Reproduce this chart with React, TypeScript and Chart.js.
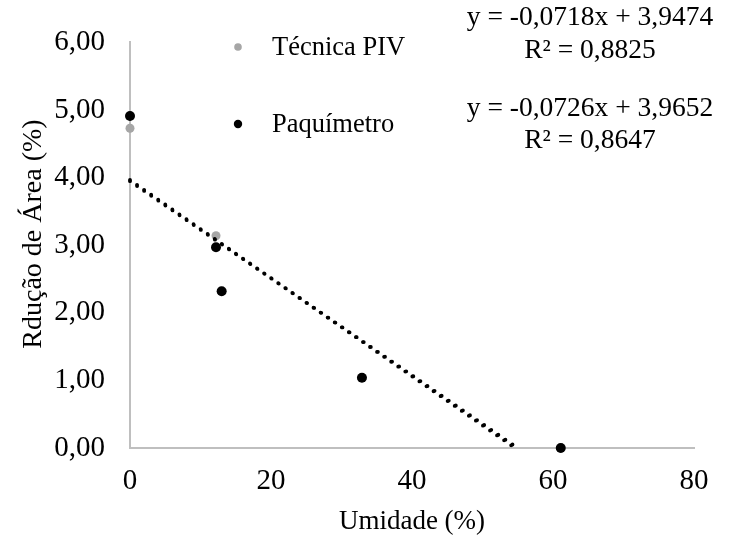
import React, { useEffect, useRef } from 'react';
import { Chart, registerables } from 'chart.js';

Chart.register(...registerables);

// Umidade (%) x Redução de área (%)
const umidadePIV = [0, 12.2, 13, 32.9, 61.1];
const reducaoPIV = [4.73, 3.14, 2.32, 1.04, 0];
const umidadePaquimetro = [0, 12.2, 13, 32.9, 61.1];
const reducaoPaquimetro = [4.91, 2.97, 2.32, 1.04, 0];

const seriesNames = ['Técnica PIV', 'Paquímetro'];
const seriesColors = ['#A6A6A6', '#000000'];

// Linear trendlines: y = a·x + b
const trendSlopes = [-0.0718, -0.0726];
const trendIntercepts = [3.9474, 3.9652];
const trendR2 = [0.8825, 0.8647];

const xMin = 0;
const xMax = 80;
const xStep = 20;
const yMin = 0;
const yMax = 6;
const yStep = 1;

const xTitle = 'Umidade (%)';
const yTitle = 'Rdução de Área (%)';

const FONT_FAMILY = '"Liberation Serif", "Times New Roman", serif';
const TICK_SIZE = 29;
const LEGEND_SIZE = 26.5;
const EQ_SIZE = 27.5;
const AXIS_COLOR = '#BFBFBF';

const fmt = (v: number, d: number) => v.toFixed(d).replace('.', ',');

const toPoints = (xs: number[], ys: number[]) => xs.map((x, i) => ({ x, y: ys[i] }));

// Trendline runs from x = 0 until it reaches y = 0
const trendPoints = (k: number) => {
  const a = trendSlopes[k];
  const b = trendIntercepts[k];
  return [
    { x: 0, y: b },
    { x: -b / a, y: 0 },
  ];
};

const equationText = (k: number) =>
  `y = ${fmt(trendSlopes[k], 4)}x + ${fmt(trendIntercepts[k], 4)}`;
const r2Text = (k: number) => `R² = ${fmt(trendR2[k], 4)}`;

const annotations = {
  id: 'annotations',
  afterDraw(chart: any) {
    const ctx = chart.ctx as CanvasRenderingContext2D;
    ctx.save();
    ctx.textBaseline = 'middle';

    // legend
    ctx.font = `${LEGEND_SIZE}px ${FONT_FAMILY}`;
    const legendRows = [47, 124];
    const legendRadius = [3.8, 4.2];
    seriesNames.forEach((name, i) => {
      ctx.beginPath();
      ctx.fillStyle = seriesColors[i];
      ctx.arc(238, legendRows[i], legendRadius[i], 0, Math.PI * 2);
      ctx.fill();
      ctx.fillStyle = '#000';
      ctx.textAlign = 'left';
      ctx.fillText(name, 272, legendRows[i] + 1);
    });

    // trendline equations
    ctx.font = `${EQ_SIZE}px ${FONT_FAMILY}`;
    const eqRows = [
      [18, 51],
      [109, 141],
    ];
    ctx.textAlign = 'center';
    [0, 1].forEach((k) => {
      ctx.fillText(equationText(k), 590, eqRows[k][0]);
      ctx.fillText(r2Text(k), 590, eqRows[k][1]);
    });

    // vertical axis title
    ctx.font = `28px ${FONT_FAMILY}`;
    ctx.translate(34, 234);
    ctx.rotate(-Math.PI / 2);
    ctx.textAlign = 'center';
    ctx.fillText(yTitle, 0, 0);
    ctx.restore();
  },
};

export default function App() {
  const canvasRef = useRef<HTMLCanvasElement | null>(null);

  useEffect(() => {
    if (!canvasRef.current) return;
    const dotted = {
      borderWidth: 3.8,
      borderDash: [0, 8.6],
      borderCapStyle: 'round' as const,
      pointRadius: 0,
      pointHoverRadius: 0,
      showLine: true,
      fill: false,
      clip: false as const,
    };
    const chart = new Chart(canvasRef.current, {
      type: 'scatter',
      data: {
        datasets: [
          {
            label: seriesNames[1],
            data: toPoints(umidadePaquimetro, reducaoPaquimetro),
            backgroundColor: seriesColors[1],
            borderColor: seriesColors[1],
            pointRadius: 5,
            borderWidth: 0,
            clip: false,
            order: 0,
          },
          {
            label: 'Linear (Paquímetro)',
            data: trendPoints(1),
            borderColor: '#000',
            ...dotted,
            order: 1,
          },
          {
            label: 'Linear (Técnica PIV)',
            data: trendPoints(0),
            borderColor: '#000',
            ...dotted,
            order: 2,
          },
          {
            label: seriesNames[0],
            data: toPoints(umidadePIV, reducaoPIV),
            backgroundColor: seriesColors[0],
            borderColor: seriesColors[0],
            pointRadius: 4.5,
            borderWidth: 0,
            clip: false,
            order: 3,
          },
        ],
      },
      options: {
        animation: false,
        responsive: false,
        maintainAspectRatio: false,
        layout: { padding: { top: 30, right: 37, left: 0, bottom: 0 } },
        plugins: {
          legend: { display: false },
          tooltip: { enabled: false },
        },
        scales: {
          x: {
            type: 'linear',
            min: xMin,
            max: xMax,
            grid: { display: false, drawTicks: false },
            border: { display: true, color: AXIS_COLOR, width: 2 },
            ticks: {
              stepSize: xStep,
              padding: 16,
              color: '#000',
              font: { family: FONT_FAMILY, size: TICK_SIZE },
            },
            title: {
              display: true,
              text: xTitle,
              color: '#000',
              font: { family: FONT_FAMILY, size: 27 },
              padding: { top: 0, bottom: 3 },
            },
            afterFit(scale: any) {
              scale.height = 93;
            },
          },
          y: {
            type: 'linear',
            min: yMin,
            max: yMax,
            grid: { display: false, drawTicks: false },
            border: { display: true, color: AXIS_COLOR, width: 2 },
            ticks: {
              stepSize: yStep,
              padding: 25,
              color: '#000',
              font: { family: FONT_FAMILY, size: TICK_SIZE },
              callback: (v: any) => fmt(Number(v), 2),
            },
            title: { display: false },
            afterFit(scale: any) {
              scale.width = 130;
            },
          },
        },
      },
      plugins: [annotations],
    });
    return () => chart.destroy();
  }, []);

  return (
    <div style={{ position: 'fixed', left: 0, top: 0, width: 731, height: 541, background: '#fff' }}>
      <canvas ref={canvasRef} width={731} height={541} style={{ width: 731, height: 541 }} />
    </div>
  );
}
